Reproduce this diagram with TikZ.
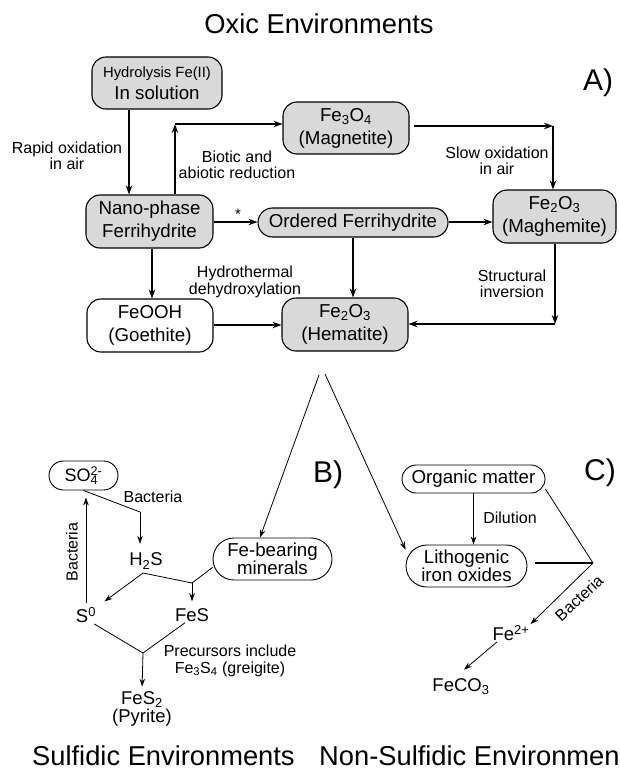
\documentclass[tikz,border=0pt]{standalone}
\usepackage{fontspec}
\setmainfont{Liberation Sans}
\usetikzlibrary{arrows.meta}
\definecolor{boxgray}{RGB}{217,217,217}
\tikzset{
  box/.style={draw, line width=1.1pt, rounded corners=14pt, fill=boxgray, inner sep=0pt, align=center, font=\fontsize{18.7}{23}\selectfont},
  pill/.style={draw, line width=0.9pt, fill=white, inner sep=0pt, align=center, font=\fontsize{18.7}{18}\selectfont},
  txt/.style={inner sep=1pt, align=center, font=\fontsize{18.5}{18}\selectfont},
  lbl/.style={inner sep=0pt, align=center, font=\fontsize{16}{16.5}\selectfont},
  ttl/.style={inner sep=0pt, font=\fontsize{27.3}{30}\selectfont},
  panel/.style={inner sep=0pt, font=\fontsize{30}{32}\selectfont},
  arrA/.style={-{Stealth[length=9pt,width=6.5pt]}, line width=1.1pt},
  arrB/.style={-{Stealth[length=8pt,width=5.5pt]}, line width=0.8pt},
  lineB/.style={line width=0.8pt}
}
\begin{document}
\begin{tikzpicture}[x=1pt,y=-1pt]
\useasboundingbox (0,0) rectangle (619,770);
\clip (0,0) rectangle (619,770);

% titles
\node[ttl] (t1) at (319,24) {Oxic Environments};
\node[ttl, anchor=west] (t2) at (32,756) {Sulfidic Environments};
\node[ttl, anchor=west] (t3) at (319,756) {Non-Sulfidic Environments};
\node[panel] (pa) at (598,83) {A)};
\node[panel] (pb) at (328,475) {B)};
\node[panel] (pc) at (600,473) {C)};

% oxic boxes
\node[box, minimum width=130pt, minimum height=52pt] (hyd) at (157,83)
  {\fontsize{14.8}{17}\selectfont Hydrolysis Fe(II)\\[-1pt]\fontsize{18.7}{20}\selectfont In solution};
\node[box, minimum width=126pt, minimum height=52pt] (mag) at (346,128) {Fe\textsubscript{3}O\textsubscript{4}\\(Magnetite)};
\node[box, minimum width=127pt, minimum height=53pt] (nano) at (149.5,221.5) {Nano-phase\\Ferrihydrite};
\node[box, rounded corners=14.5pt, minimum width=190pt, minimum height=29pt] (ord) at (353,222.5) {Ordered Ferrihydrite};
\node[box, minimum width=123pt, minimum height=53pt] (mgh) at (554.5,216.5) {Fe\textsubscript{2}O\textsubscript{3}\\(Maghemite)};
\node[box, fill=white, minimum width=126pt, minimum height=53pt] (goe) at (150,325.5) {FeOOH\\(Goethite)};
\node[box, minimum width=126pt, minimum height=53pt] (hem) at (345,324.5) {Fe\textsubscript{2}O\textsubscript{3}\\(Hematite)};

% oxic labels
\node[lbl] (l1) at (67,156) {Rapid oxidation\\in air};
\node[lbl] (l2) at (237,165) {Biotic and\\abiotic reduction};
\node[lbl] (l3) at (497,161) {Slow oxidation\\in air};
\node[lbl] (l4) at (245,282) {Hydrothermal\\dehydroxylation};
\node[lbl] (l5) at (512,284) {Structural\\inversion};
\node[inner sep=0pt, font=\fontsize{15}{15}\selectfont] (ast) at (238,214) {*};

% oxic guides
\coordinate (xa) at (129,0);
\coordinate (j1) at (175,124);
\coordinate (xb) at (152,0);
\coordinate (yc) at (0,222);
\coordinate (j2) at (553,126);
\coordinate (xd) at (353,0);
\coordinate (j3) at (555,324);
\coordinate (ye) at (0,325);

% oxic connectors
\draw[arrA] (hyd.south -| xa) -- (nano.north -| xa);
\draw[arrA] (nano.north -| j1) -- (j1);
\draw[arrA] (j1) -- (mag.west |- j1);
\draw[arrA, shorten <=4pt] (mag.east |- j2) -- (j2);
\draw[arrA] (j2) -- (mgh.north -| j2);
\draw[arrA] (nano.east |- yc) -- (ord.west |- yc);
\draw[arrA] (ord.east |- yc) -- (mgh.west |- yc);
\draw[arrA] (ord.south -| xd) -- (hem.north -| xd);
\draw[arrA] (nano.south -| xb) -- (goe.north -| xb);
\draw[arrA] (goe.east |- ye) -- (hem.west |- ye);
\draw[arrA] (mgh.south -| j3) -- (j3);
\draw[arrA] (j3) -- (hem.east |- j3);

% fork
\coordinate (fL) at (319,375);
\coordinate (fR) at (325,374);

% sulfidic
\node[pill, rounded corners=14.5pt, minimum width=69pt, minimum height=29pt, font=\fontsize{18}{18}\selectfont] (so4) at (83.5,475.5) {SO\rlap{\textsubscript{4}}\textsuperscript{2-}};
\node[pill, rounded corners=21pt, minimum width=119pt, minimum height=42pt, font=\fontsize{18.7}{15.5}\selectfont] (feb) at (272.5,559) {Fe-bearing\\minerals};
\node[txt] (h2s) at (146,561) {H\textsubscript{2}S};
\node[txt] (s0) at (86,615) {S\textsuperscript{0}};
\node[txt] (fes) at (192,615) {FeS};
\node[txt, font=\fontsize{18.5}{16}\selectfont] (fes2) at (142,709) {FeS\textsubscript{2}\\(Pyrite)};
\node[lbl] (lb1) at (153,497) {Bacteria};
\node[lbl, rotate=90] (lb2) at (72,552) {Bacteria};
\node[lbl] (lb3) at (230,661) {Precursors include\\Fe\textsubscript{3}S\textsubscript{4} (greigite)};

\draw[arrB] (fL) -- ([xshift=-12.5pt]feb.north);
\coordinate (k1) at (140,512);
\coordinate (k2) at (143,573);
\coordinate (k3) at (192,583);
\coordinate (k4) at (143,653);
\draw[lineB] (so4.south) -- (k1);
\draw[arrB, shorten >=8pt] (k1) -- (k1 |- h2s.north);
\draw[lineB] (k2) -- (k3);
\draw[lineB] (feb.188) -- (k3);
\draw[arrB, shorten >=6pt] (k3) -- (fes.north -| k3);
\draw[arrB, shorten >=9pt] (k2) -- (s0);
\draw[arrB, shorten <=3pt, shorten >=7pt] (s0.north) -- (s0.north |- so4.south);
\draw[lineB] ([xshift=-3pt]s0.south east) -- (k4);
\draw[lineB] ([xshift=-7pt]fes.south) -- (k4);
\draw[arrB, shorten >=4pt] (k4) -- (fes2.north);

% non-sulfidic
\node[pill, rounded corners=14pt, minimum width=143pt, minimum height=28pt] (org) at (473.5,479) {Organic matter};
\node[pill, rounded corners=21pt, minimum width=121pt, minimum height=42pt] (lith) at (466.5,566) {Lithogenic\\iron oxides};
\node[txt] (fe2) at (511,633) {Fe\textsuperscript{2+}};
\node[txt] (feco3) at (461,687) {FeCO\textsubscript{3}};
\node[lbl] (ld) at (510,518) {Dilution};
\node[lbl, rotate=43] (lb4) at (579,598) {Bacteria};

\draw[arrB] (fR) -- (lith.165);
\draw[arrB] (org.south) -- (org.south |- lith.north);
\coordinate (k5) at (593,563);
\draw[lineB] (org.-8) -- (k5);
\draw[line width=2pt, shorten <=8pt] (lith.east |- k5) -- (k5);
\draw[arrB] (k5) -- (fe2.north east);
\draw[arrB] ([xshift=-14pt]fe2.south) -- ([xshift=3pt,yshift=8pt]feco3.north);
\end{tikzpicture}
\end{document}
